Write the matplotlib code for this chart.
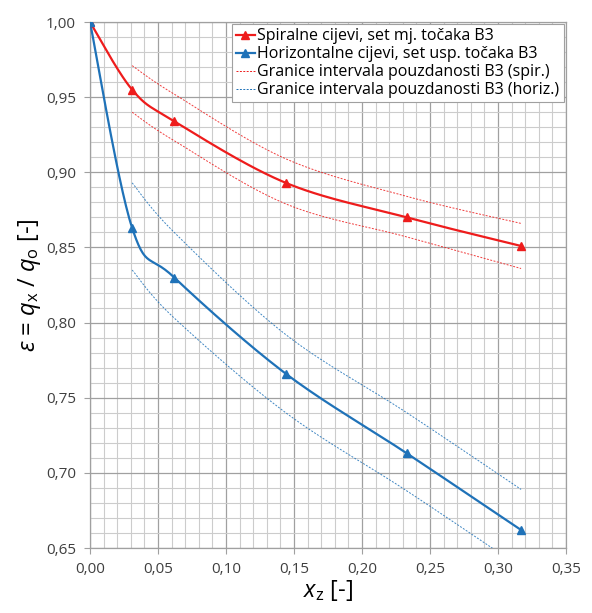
import numpy as np
import matplotlib
matplotlib.use("Agg")
import matplotlib.pyplot as plt
from matplotlib.ticker import MultipleLocator, FuncFormatter

# data
x_spir = [0.0, 0.031, 0.062, 0.144, 0.233, 0.317]
eps_spir = [1.000, 0.955, 0.934, 0.893, 0.870, 0.851]

x_horiz = [0.0, 0.031, 0.062, 0.144, 0.233, 0.317]
eps_horiz = [1.000, 0.863, 0.830, 0.766, 0.713, 0.662]

x_ci = [0.031, 0.062, 0.144, 0.233, 0.317]
spir_upper = [0.971, 0.952, 0.909, 0.884, 0.866]
spir_lower = [0.940, 0.921, 0.879, 0.857, 0.836]
horiz_upper = [0.893, 0.860, 0.792, 0.740, 0.689]
horiz_lower = [0.835, 0.803, 0.740, 0.688, 0.637]

labels = ["Spiralne cijevi, set mj. točaka B3",
          "Horizontalne cijevi, set usp. točaka B3",
          "Granice intervala pouzdanosti B3 (spir.)",
          "Granice intervala pouzdanosti B3 (horiz.)"]

RED = "#ee1c1c"
BLUE = "#1f72b8"


def smooth(xs, ys, n=30):
    # Catmull-Rom curve through the points, like Excel's smoothed line
    p = np.column_stack([xs, ys]).astype(float)
    p = np.vstack([p[0], p, p[-1]])
    out = []
    t = np.linspace(0, 1, n)[:, None]
    for i in range(1, len(p) - 2):
        p0, p1, p2, p3 = p[i - 1], p[i], p[i + 1], p[i + 2]
        seg = 0.5 * ((2 * p1) + (-p0 + p2) * t + (2 * p0 - 5 * p1 + 4 * p2 - p3) * t ** 2
                     + (-p0 + 3 * p1 - 3 * p2 + p3) * t ** 3)
        out.append(seg)
    out = np.vstack(out)
    return out[:, 0], out[:, 1]


plt.rcParams['font.family'] = ['Open Sans', 'DejaVu Sans']
plt.rcParams['mathtext.fontset'] = 'custom'
plt.rcParams['mathtext.rm'] = 'Open Sans'
plt.rcParams['mathtext.it'] = 'Open Sans:italic'

fig = plt.figure(figsize=(5.92, 6.13), dpi=100)
ax = fig.add_axes([0.152, 0.106, 0.804, 0.858])

sx, sy = smooth(x_spir, eps_spir)
ax.plot(sx, sy, color=RED, lw=1.6, zorder=4)
ax.plot(x_spir, eps_spir, '^', color=RED, ms=6, zorder=5)

hx, hy = smooth(x_horiz, eps_horiz)
ax.plot(hx, hy, color=BLUE, lw=1.6, zorder=4)
ax.plot(x_horiz, eps_horiz, '^', color=BLUE, ms=6, zorder=5)

for ys, c in [(spir_upper, RED), (spir_lower, RED), (horiz_upper, BLUE), (horiz_lower, BLUE)]:
    cx, cy = smooth(x_ci, ys)
    ax.plot(cx, cy, color=c, lw=0.7, ls=(0, (2, 1.5)), alpha=0.85, zorder=3)

# legend proxies
h1, = ax.plot([], [], color=RED, lw=1.6, marker='^', ms=6)
h2, = ax.plot([], [], color=BLUE, lw=1.6, marker='^', ms=6)
h3, = ax.plot([], [], color=RED, lw=0.7, ls=(0, (2, 1.5)))
h4, = ax.plot([], [], color=BLUE, lw=0.7, ls=(0, (2, 1.5)))
leg = ax.legend([h1, h2, h3, h4], labels, loc='upper right', fontsize=11.5,
                handlelength=1.2, handletextpad=0.15, borderpad=0.25,
                labelspacing=0.12, borderaxespad=0.15, fancybox=False,
                framealpha=1, edgecolor='#a0a0a0')
leg.get_frame().set_linewidth(0.8)

ax.set_xlim(0, 0.35)
ax.set_ylim(0.65, 1.0)
ax.xaxis.set_major_locator(MultipleLocator(0.05))
ax.xaxis.set_minor_locator(MultipleLocator(0.01))
ax.yaxis.set_major_locator(MultipleLocator(0.05))
ax.yaxis.set_minor_locator(MultipleLocator(0.01))
fmt = FuncFormatter(lambda v, p: f"{v:.2f}".replace('.', ','))
ax.xaxis.set_major_formatter(fmt)
ax.yaxis.set_major_formatter(fmt)

ax.grid(which='major', color='#a0a0a0', lw=0.9)
ax.grid(which='minor', color='#cccccc', lw=0.8)
ax.set_axisbelow(True)
for s in ax.spines.values():
    s.set_color('#a0a0a0')
    s.set_linewidth(0.9)
ax.tick_params(which='major', length=4, color='#a0a0a0', labelsize=11,
               labelcolor='#404040', pad=6)
ax.tick_params(which='minor', length=0)

ax.set_ylabel(r'$ε$ = $q_\mathrm{x}$ / $q_\mathrm{o}$ [-]', fontsize=17, labelpad=2)
ax.set_xlabel(r'$x_\mathrm{z}$ [-]', fontsize=17, labelpad=1)

fig.savefig('out.png', dpi=100)
